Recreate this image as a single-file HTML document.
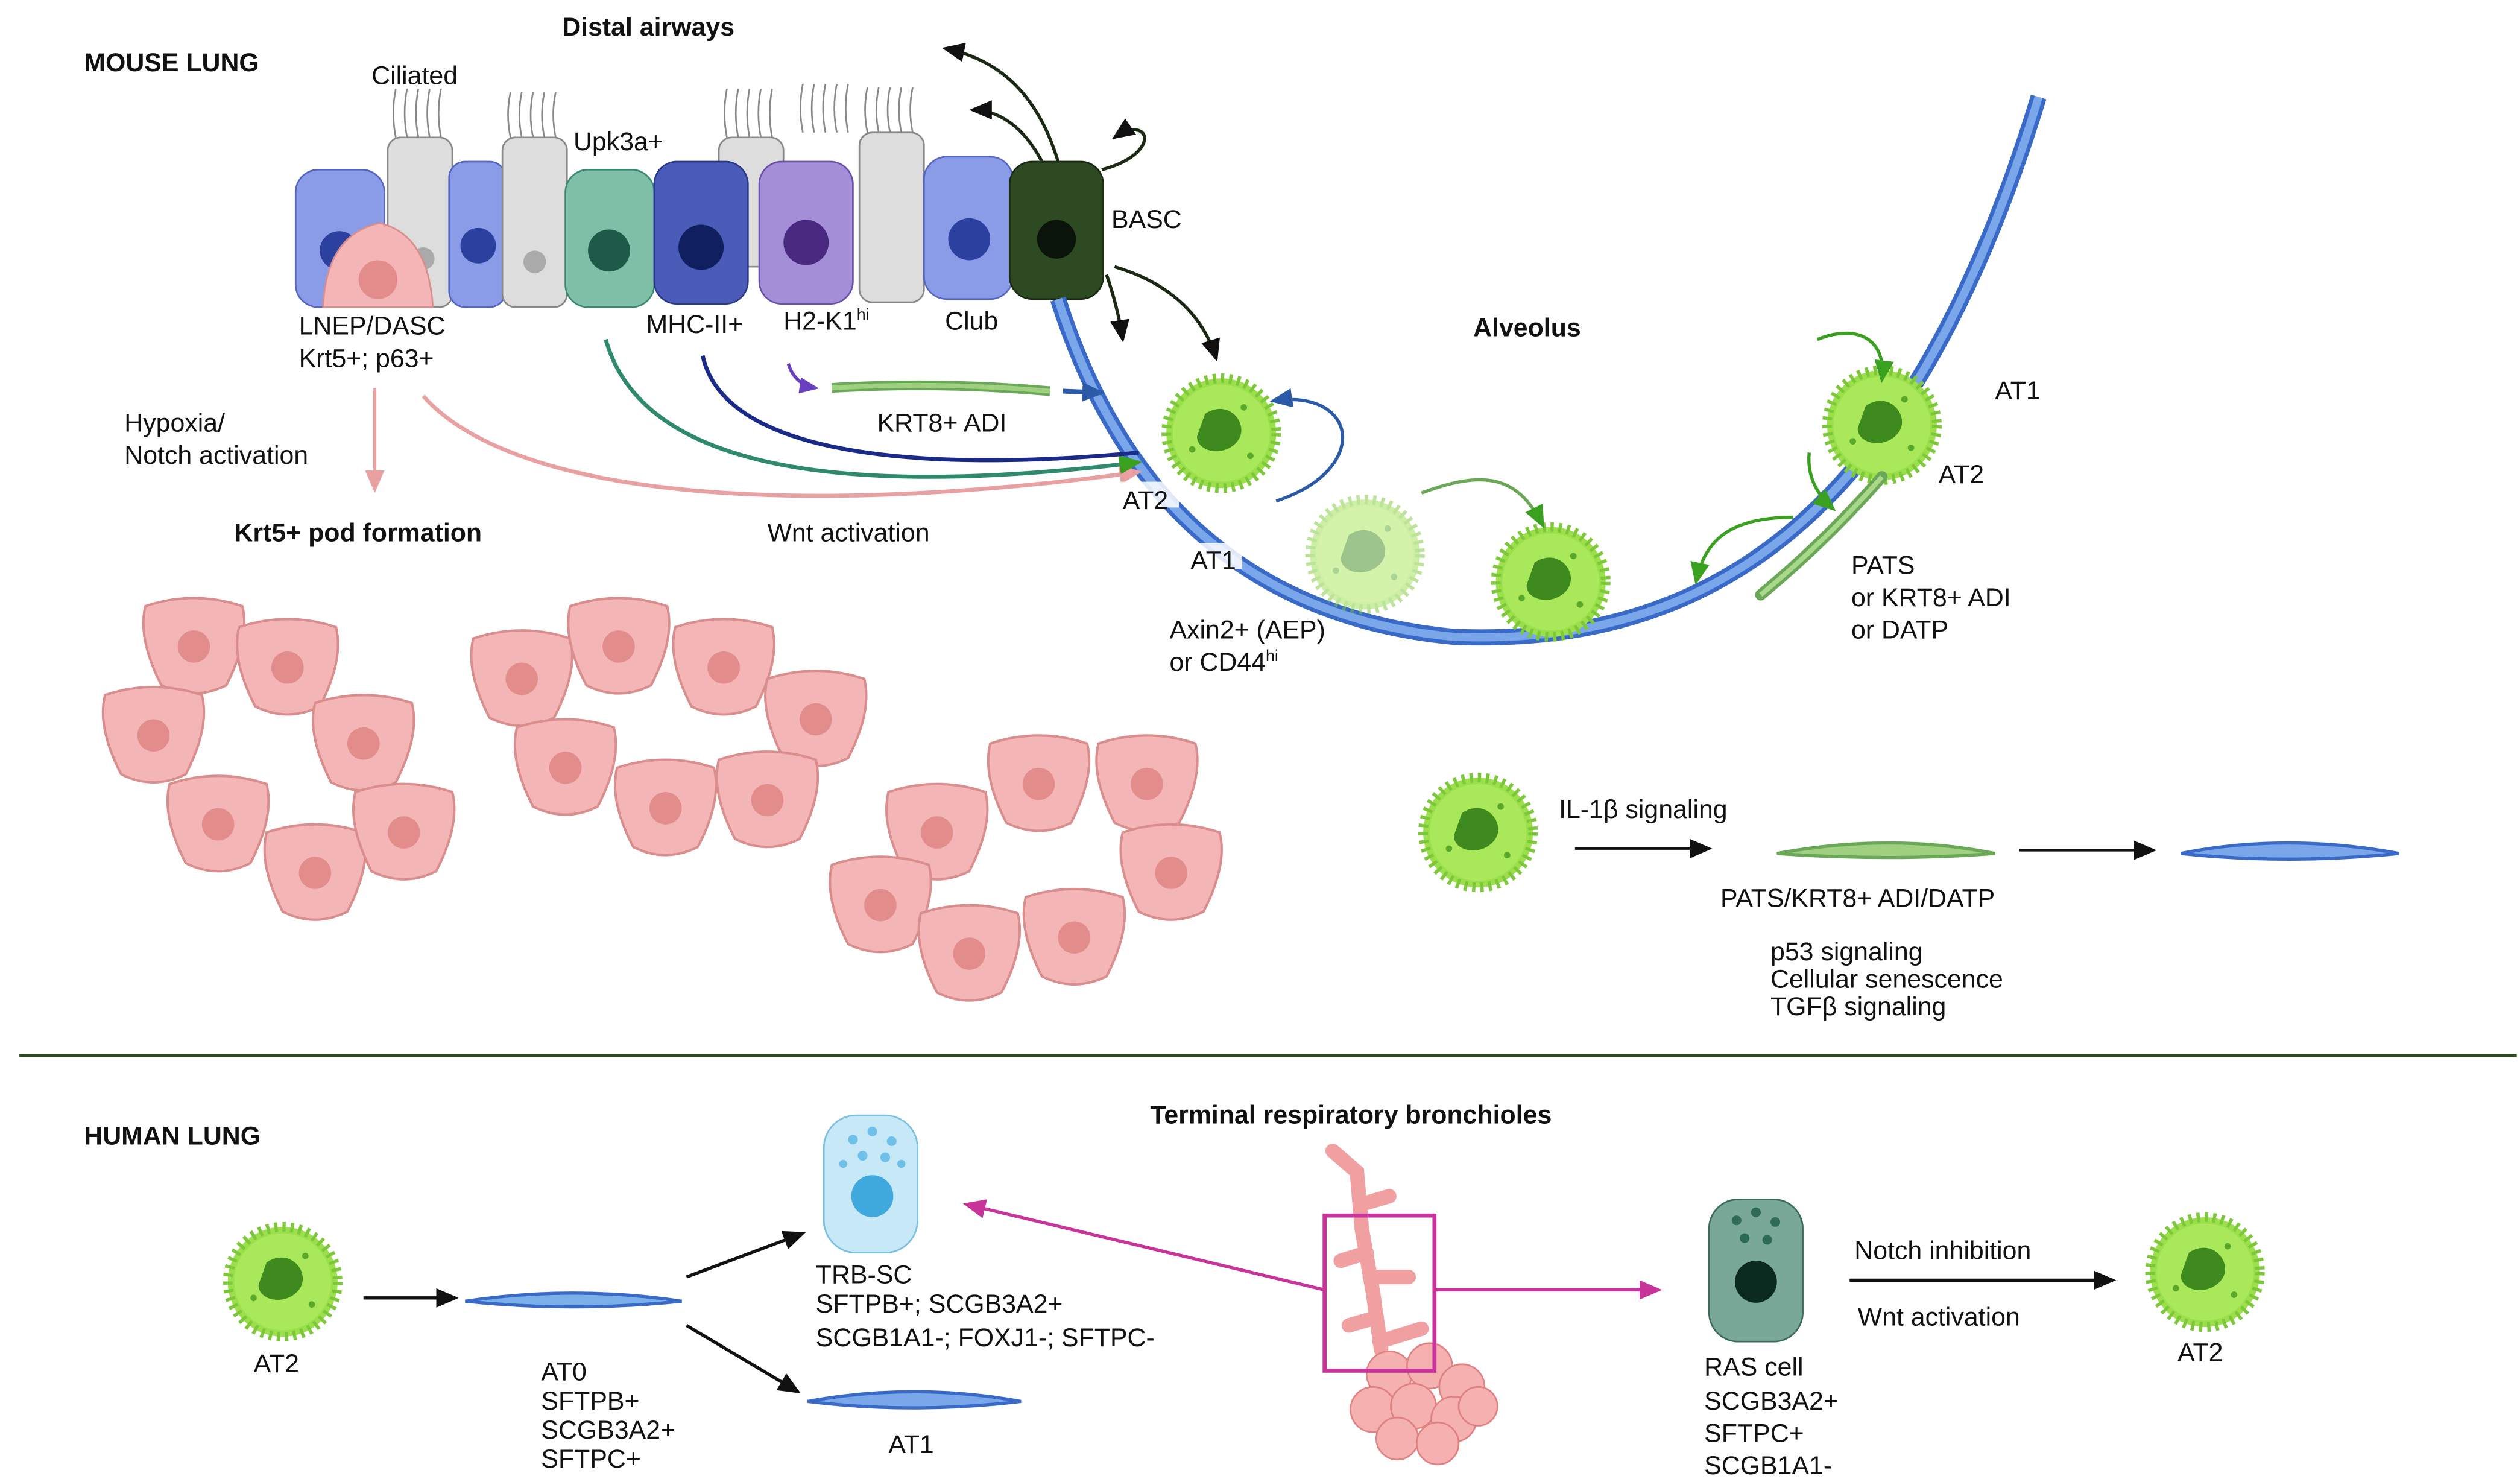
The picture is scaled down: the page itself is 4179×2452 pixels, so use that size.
<!DOCTYPE html>
<html><head><meta charset="utf-8"><style>
html,body{margin:0;padding:0;background:#fff}
svg{display:block}
text{font-family:"Liberation Sans",sans-serif;font-size:16px;fill:#111}
.b{font-weight:bold}
</style></head><body>
<svg width="4179" height="2452" viewBox="0 0 1560 915" preserveAspectRatio="none" xmlns="http://www.w3.org/2000/svg">
<defs>
<g id="at2">
<circle r="34" fill="#9be04a" stroke="#7cc83a" stroke-width="6" stroke-dasharray="2 3"/>
<circle r="30" fill="#a8e85a"/>
<path d="M-10,-12 C5,-22 18,-5 10,5 C2,15 -15,12 -15,2 Z" fill="#3f8a1e"/>
<circle cx="-18" cy="10" r="2" fill="#5aa82a"/><circle cx="14" cy="-16" r="2" fill="#5aa82a"/><circle cx="18" cy="14" r="2" fill="#5aa82a"/>
</g>
<g id="pod">
<path d="M-30,-25 Q0,-35 30,-25 Q35,-5 20,24 Q0,34 -20,24 Q-35,-5 -30,-25Z" fill="#f3b5b5" stroke="#d98d8d" stroke-width="1.5"/>
<circle r="10" fill="#e28c8c"/>
</g>
<marker id="ak" markerUnits="userSpaceOnUse" markerWidth="14" markerHeight="12" refX="12" refY="6" orient="auto"><path d="M0,0 L14,6 L0,12Z" fill="#111"/></marker>
<marker id="ag" markerUnits="userSpaceOnUse" markerWidth="14" markerHeight="12" refX="12" refY="6" orient="auto"><path d="M0,0 L14,6 L0,12Z" fill="#3aa020"/></marker>
<marker id="am" markerUnits="userSpaceOnUse" markerWidth="14" markerHeight="12" refX="12" refY="6" orient="auto"><path d="M0,0 L14,6 L0,12Z" fill="#c8349a"/></marker>
<marker id="ab" markerUnits="userSpaceOnUse" markerWidth="14" markerHeight="12" refX="12" refY="6" orient="auto"><path d="M0,0 L14,6 L0,12Z" fill="#2a5aa8"/></marker>
<marker id="av" markerUnits="userSpaceOnUse" markerWidth="12" markerHeight="10" refX="10" refY="5" orient="auto"><path d="M0,0 L12,5 L0,10Z" fill="#6a40c0"/></marker>
<marker id="ap" markerUnits="userSpaceOnUse" markerWidth="14" markerHeight="12" refX="12" refY="6" orient="auto"><path d="M0,0 L14,6 L0,12Z" fill="#e8a0a0"/></marker>
</defs>

<text x="52" y="44" class="b">MOUSE LUNG</text>
<text x="348" y="22" class="b">Distal airways</text>
<text x="230" y="52">Ciliated</text>
<text x="355" y="93">Upk3a+</text>

<g stroke="#888" stroke-width="1" fill="none">
<path d="M245,85 q-3,-15 0,-30 M252,85 q-3,-15 0,-30 M259,85 q-3,-15 0,-30 M266,85 q-3,-15 0,-30 M273,85 q-3,-15 0,-30"/>
<path d="M316,85 q-3,-14 0,-28 M323,85 q-3,-14 0,-28 M330,85 q-3,-14 0,-28 M337,85 q-3,-14 0,-28 M344,85 q-3,-14 0,-28"/>
<path d="M450,85 q-3,-15 0,-30 M457,85 q-3,-15 0,-30 M464,85 q-3,-15 0,-30 M471,85 q-3,-15 0,-30 M478,85 q-3,-15 0,-30"/>
<path d="M497,82 q-3,-15 0,-30 M504,82 q-3,-15 0,-30 M511,82 q-3,-15 0,-30 M518,82 q-3,-15 0,-30 M525,82 q-3,-15 0,-30"/>
<path d="M537,82 q-3,-14 0,-28 M544,82 q-3,-14 0,-28 M551,82 q-3,-14 0,-28 M558,82 q-3,-14 0,-28 M565,82 q-3,-14 0,-28"/>
</g>
<rect x="183" y="105" width="55" height="85" rx="14" fill="#8a9be8" stroke="#5566c0"/>
<circle cx="210" cy="155" r="12" fill="#2c40a0"/>
<rect x="240" y="85" width="40" height="105" rx="8" fill="#ddd" stroke="#888"/>
<circle cx="262" cy="160" r="7" fill="#aaa"/>
<rect x="278" y="100" width="35" height="90" rx="10" fill="#8a9be8" stroke="#5566c0"/>
<circle cx="296" cy="152" r="11" fill="#2c40a0"/>
<rect x="311" y="85" width="40" height="105" rx="8" fill="#ddd" stroke="#888"/>
<circle cx="331" cy="162" r="7" fill="#aaa"/>
<rect x="350" y="105" width="55" height="85" rx="14" fill="#7fbfa8" stroke="#3a8a70"/>
<circle cx="377" cy="155" r="13" fill="#1d5a48"/>
<rect x="445" y="85" width="40" height="80" rx="8" fill="#ddd" stroke="#888"/>
<rect x="405" y="100" width="58" height="88" rx="14" fill="#4a5cb8" stroke="#2a3a88"/>
<circle cx="434" cy="153" r="14" fill="#101f60"/>
<rect x="470" y="100" width="58" height="88" rx="14" fill="#a48ed8" stroke="#6a50a8"/>
<circle cx="499" cy="150" r="14" fill="#4a2a80"/>
<rect x="532" y="82" width="40" height="105" rx="8" fill="#ddd" stroke="#888"/>
<rect x="572" y="97" width="55" height="88" rx="14" fill="#8a9be8" stroke="#5566c0"/>
<circle cx="600" cy="148" r="13" fill="#2c40a0"/>
<rect x="625" y="100" width="58" height="85" rx="14" fill="#2e4a22" stroke="#1a2a12"/>
<circle cx="654" cy="148" r="12" fill="#0a140a"/>
<path d="M200,190 Q202,145 235,138 Q265,145 268,190Z" fill="#f3b5b5" stroke="#d98d8d"/>
<circle cx="234" cy="173" r="12" fill="#e28c8c"/>

<text x="688" y="141">BASC</text>
<text x="185" y="207">LNEP/DASC</text>
<text x="185" y="227">Krt5+; p63+</text>
<text x="400" y="206">MHC-II+</text>
<text x="485" y="204">H2-K1<tspan font-size="10" dy="-6">hi</tspan></text>
<text x="585" y="204">Club</text>
<text x="912" y="208" class="b">Alveolus</text>
<text x="77" y="267">Hypoxia/</text>
<text x="77" y="287">Notch activation</text>
<text x="145" y="335" class="b">Krt5+ pod formation</text>
<text x="475" y="335">Wnt activation</text>
<text x="543" y="267">KRT8+ ADI</text>

<g fill="none" stroke="#1a2a12" stroke-width="2">
<path d="M655,100 C640,50 610,35 585,30" marker-end="url(#ak)"/>
<path d="M645,100 C632,75 615,68 602,68" marker-end="url(#ak)"/>
<path d="M682,105 C720,95 712,70 690,85" marker-end="url(#ak)"/>
<path d="M685,170 Q692,190 695,210" marker-end="url(#ak)"/>
<path d="M690,165 Q740,180 753,222" marker-end="url(#ak)"/>
</g>
<path d="M655,185 C685,280 750,380 900,394 C1050,400 1180,330 1262,60" fill="none" stroke="#3a6ac8" stroke-width="10"/>
<path d="M655,185 C685,280 750,380 900,394 C1050,400 1180,330 1262,60" fill="none" stroke="#7aa6ea" stroke-width="5"/>
<path d="M232,240 V303" stroke="#e8a0a0" stroke-width="2" marker-end="url(#ap)"/>
<path d="M262,245 C320,310 500,320 705,292" fill="none" stroke="#e8a0a0" stroke-width="2.5" marker-end="url(#ap)"/>
<path d="M375,210 C400,300 550,305 705,286" fill="none" stroke="#2e8a6a" stroke-width="2.5" marker-end="url(#ag)"/>
<path d="M435,220 C450,290 600,290 705,280" fill="none" stroke="#1a2a88" stroke-width="2.5"/>
<path d="M488,225 Q492,238 505,240" fill="none" stroke="#6a40c0" stroke-width="2" marker-end="url(#av)"/>
<path d="M515,240 Q580,236 650,242" fill="none" stroke="#6aa858" stroke-width="6"/>
<path d="M515,240 Q580,236 650,242" fill="none" stroke="#9ed080" stroke-width="3"/>
<path d="M658,242 L682,243" stroke="#2a5aa8" stroke-width="3" marker-end="url(#ab)"/>
<path d="M790,310 C850,290 840,240 788,248" fill="none" stroke="#2a5aa8" stroke-width="2" marker-end="url(#ab)"/>
<use href="#at2" x="756" y="268"/>
<g opacity="0.5"><use href="#at2" x="845" y="343"/></g>
<use href="#at2" x="960" y="360"/>
<use href="#at2" x="1165" y="263"/>
<rect x="692" y="298" width="38" height="16" fill="#fff" opacity="0.85"/>
<text x="695" y="315">AT2</text>
<rect x="735" y="336" width="34" height="16" fill="#fff" opacity="0.85"/>
<text x="737" y="352">AT1</text>
<text x="724" y="395">Axin2+ (AEP)</text>
<text x="724" y="415">or CD44<tspan font-size="10" dy="-6">hi</tspan></text>
<text x="1235" y="247">AT1</text>
<text x="1200" y="299">AT2</text>
<text x="1146" y="355">PATS</text>
<text x="1146" y="375">or KRT8+ ADI</text>
<text x="1146" y="395">or DATP</text>
<path d="M880,305 C920,290 940,295 955,325" fill="none" stroke="#6aa858" stroke-width="2" marker-end="url(#ag)"/>
<path d="M1125,210 C1150,200 1168,210 1165,235" fill="none" stroke="#3aa020" stroke-width="2" marker-end="url(#ag)"/>
<path d="M1120,280 Q1118,300 1135,315" fill="none" stroke="#3aa020" stroke-width="2" marker-end="url(#ag)"/>
<path d="M1110,320 C1070,320 1055,335 1050,360" fill="none" stroke="#3aa020" stroke-width="2" marker-end="url(#ag)"/>
<path d="M1090,368 Q1130,335 1165,295" fill="none" stroke="#6aa858" stroke-width="7" stroke-linecap="round"/>
<path d="M1090,368 Q1130,335 1165,295" fill="none" stroke="#a8d88a" stroke-width="3"/>

<use href="#pod" x="120" y="400"/><use href="#pod" x="178" y="413"/><use href="#pod" x="225" y="460"/>
<use href="#pod" x="95" y="455"/><use href="#pod" x="135" y="510"/><use href="#pod" x="195" y="540"/><use href="#pod" x="250" y="515"/>
<use href="#pod" x="323" y="420"/><use href="#pod" x="383" y="400"/><use href="#pod" x="448" y="413"/><use href="#pod" x="505" y="445"/>
<use href="#pod" x="350" y="475"/><use href="#pod" x="412" y="500"/><use href="#pod" x="475" y="495"/>
<use href="#pod" x="580" y="515"/><use href="#pod" x="643" y="485"/><use href="#pod" x="710" y="485"/><use href="#pod" x="725" y="540"/>
<use href="#pod" x="545" y="560"/><use href="#pod" x="600" y="590"/><use href="#pod" x="665" y="580"/>

<use href="#at2" x="915" y="515"/>
<text x="965" y="506">IL-1β signaling</text>
<path d="M975,525 H1058" stroke="#111" stroke-width="1.5" marker-end="url(#ak)"/>
<path d="M1100,528 Q1170,515 1235,528 Q1170,533 1100,528Z" fill="#9ed080" stroke="#6aa858" stroke-width="2"/>
<text x="1065" y="561">PATS/KRT8+ ADI/DATP</text>
<text x="1096" y="594" font-size="15">p53 signaling</text>
<text x="1096" y="611" font-size="15">Cellular senescence</text>
<text x="1096" y="628" font-size="15">TGFβ signaling</text>
<path d="M1250,526 H1333" stroke="#111" stroke-width="1.5" marker-end="url(#ak)"/>
<path d="M1350,528 Q1415,515 1485,528 Q1415,535 1350,528Z" fill="#7aa6ea" stroke="#3a6ac8" stroke-width="2"/>

<line x1="12" y1="653" x2="1558" y2="653" stroke="#2e4a22" stroke-width="2"/>

<text x="52" y="708" class="b">HUMAN LUNG</text>
<text x="712" y="695" class="b">Terminal respiratory bronchioles</text>
<use href="#at2" x="175" y="793"/>
<text x="157" y="849">AT2</text>
<path d="M225,803 H282" stroke="#111" stroke-width="2" marker-end="url(#ak)"/>
<path d="M288,805 Q355,795 422,805 Q355,812 288,805Z" fill="#7ab0ea" stroke="#3a6ac8" stroke-width="2"/>
<text x="335" y="854">AT0</text><text x="335" y="872">SFTPB+</text><text x="335" y="890">SCGB3A2+</text><text x="335" y="908">SFTPC+</text>
<path d="M425,790 L497,763" stroke="#111" stroke-width="2" marker-end="url(#ak)"/>
<path d="M425,820 L494,861" stroke="#111" stroke-width="2" marker-end="url(#ak)"/>
<path d="M500,867 Q565,855 632,867 Q565,875 500,867Z" fill="#7aa6ea" stroke="#3a6ac8" stroke-width="2"/>
<text x="550" y="899">AT1</text>
<rect x="510" y="690" width="58" height="85" rx="20" fill="#c6e8f7" stroke="#7ac0e0"/>
<g fill="#6ec0e8"><circle cx="528" cy="705" r="3"/><circle cx="540" cy="700" r="3"/><circle cx="552" cy="706" r="3"/><circle cx="534" cy="715" r="3"/><circle cx="548" cy="716" r="3"/><circle cx="522" cy="720" r="2.5"/><circle cx="558" cy="720" r="2.5"/></g>
<circle cx="540" cy="740" r="13" fill="#3fa8dc"/>
<text x="505" y="794">TRB-SC</text><text x="505" y="812">SFTPB+; SCGB3A2+</text><text x="505" y="833">SCGB1A1-; FOXJ1-; SFTPC-</text>
<path d="M820,798 L598,745" stroke="#c8349a" stroke-width="2" marker-end="url(#am)"/>
<path d="M888,798 L1027,798" stroke="#c8349a" stroke-width="2" marker-end="url(#am)"/>
<g stroke="#f0a0a0" stroke-width="9" fill="none" stroke-linecap="round">
<path d="M825,712 L840,725 L843,760 L850,800 L855,835"/>
<path d="M843,745 L860,740 M846,775 L830,780 M848,790 L872,790 M852,815 L835,820 M854,830 L880,822"/>
</g>
<g fill="#f5b0b0" stroke="#e08080" stroke-width="1">
<circle cx="860" cy="850" r="14"/><circle cx="885" cy="845" r="14"/><circle cx="905" cy="858" r="14"/><circle cx="850" cy="872" r="14"/><circle cx="875" cy="870" r="14"/><circle cx="900" cy="878" r="14"/><circle cx="865" cy="890" r="13"/><circle cx="890" cy="893" r="13"/><circle cx="915" cy="870" r="12"/>
</g>
<rect x="820" y="752" width="68" height="96" fill="none" stroke="#c8349a" stroke-width="2.5"/>
<rect x="1058" y="742" width="58" height="88" rx="18" fill="#7aa898" stroke="#3a6a5a"/>
<g fill="#2e6a58"><circle cx="1075" cy="755" r="3"/><circle cx="1087" cy="750" r="3"/><circle cx="1099" cy="756" r="3"/><circle cx="1080" cy="766" r="3"/><circle cx="1094" cy="767" r="3"/></g>
<circle cx="1087" cy="793" r="13" fill="#0a2a20"/>
<text x="1055" y="851">RAS cell</text><text x="1055" y="872">SCGB3A2+</text><text x="1055" y="892">SFTPC+</text><text x="1055" y="912">SCGB1A1-</text>
<text x="1148" y="779">Notch inhibition</text>
<path d="M1145,792 H1308" stroke="#111" stroke-width="2" marker-end="url(#ak)"/>
<text x="1150" y="820">Wnt activation</text>
<use href="#at2" x="1365" y="787"/>
<text x="1348" y="842">AT2</text>
</svg>
</body></html>
